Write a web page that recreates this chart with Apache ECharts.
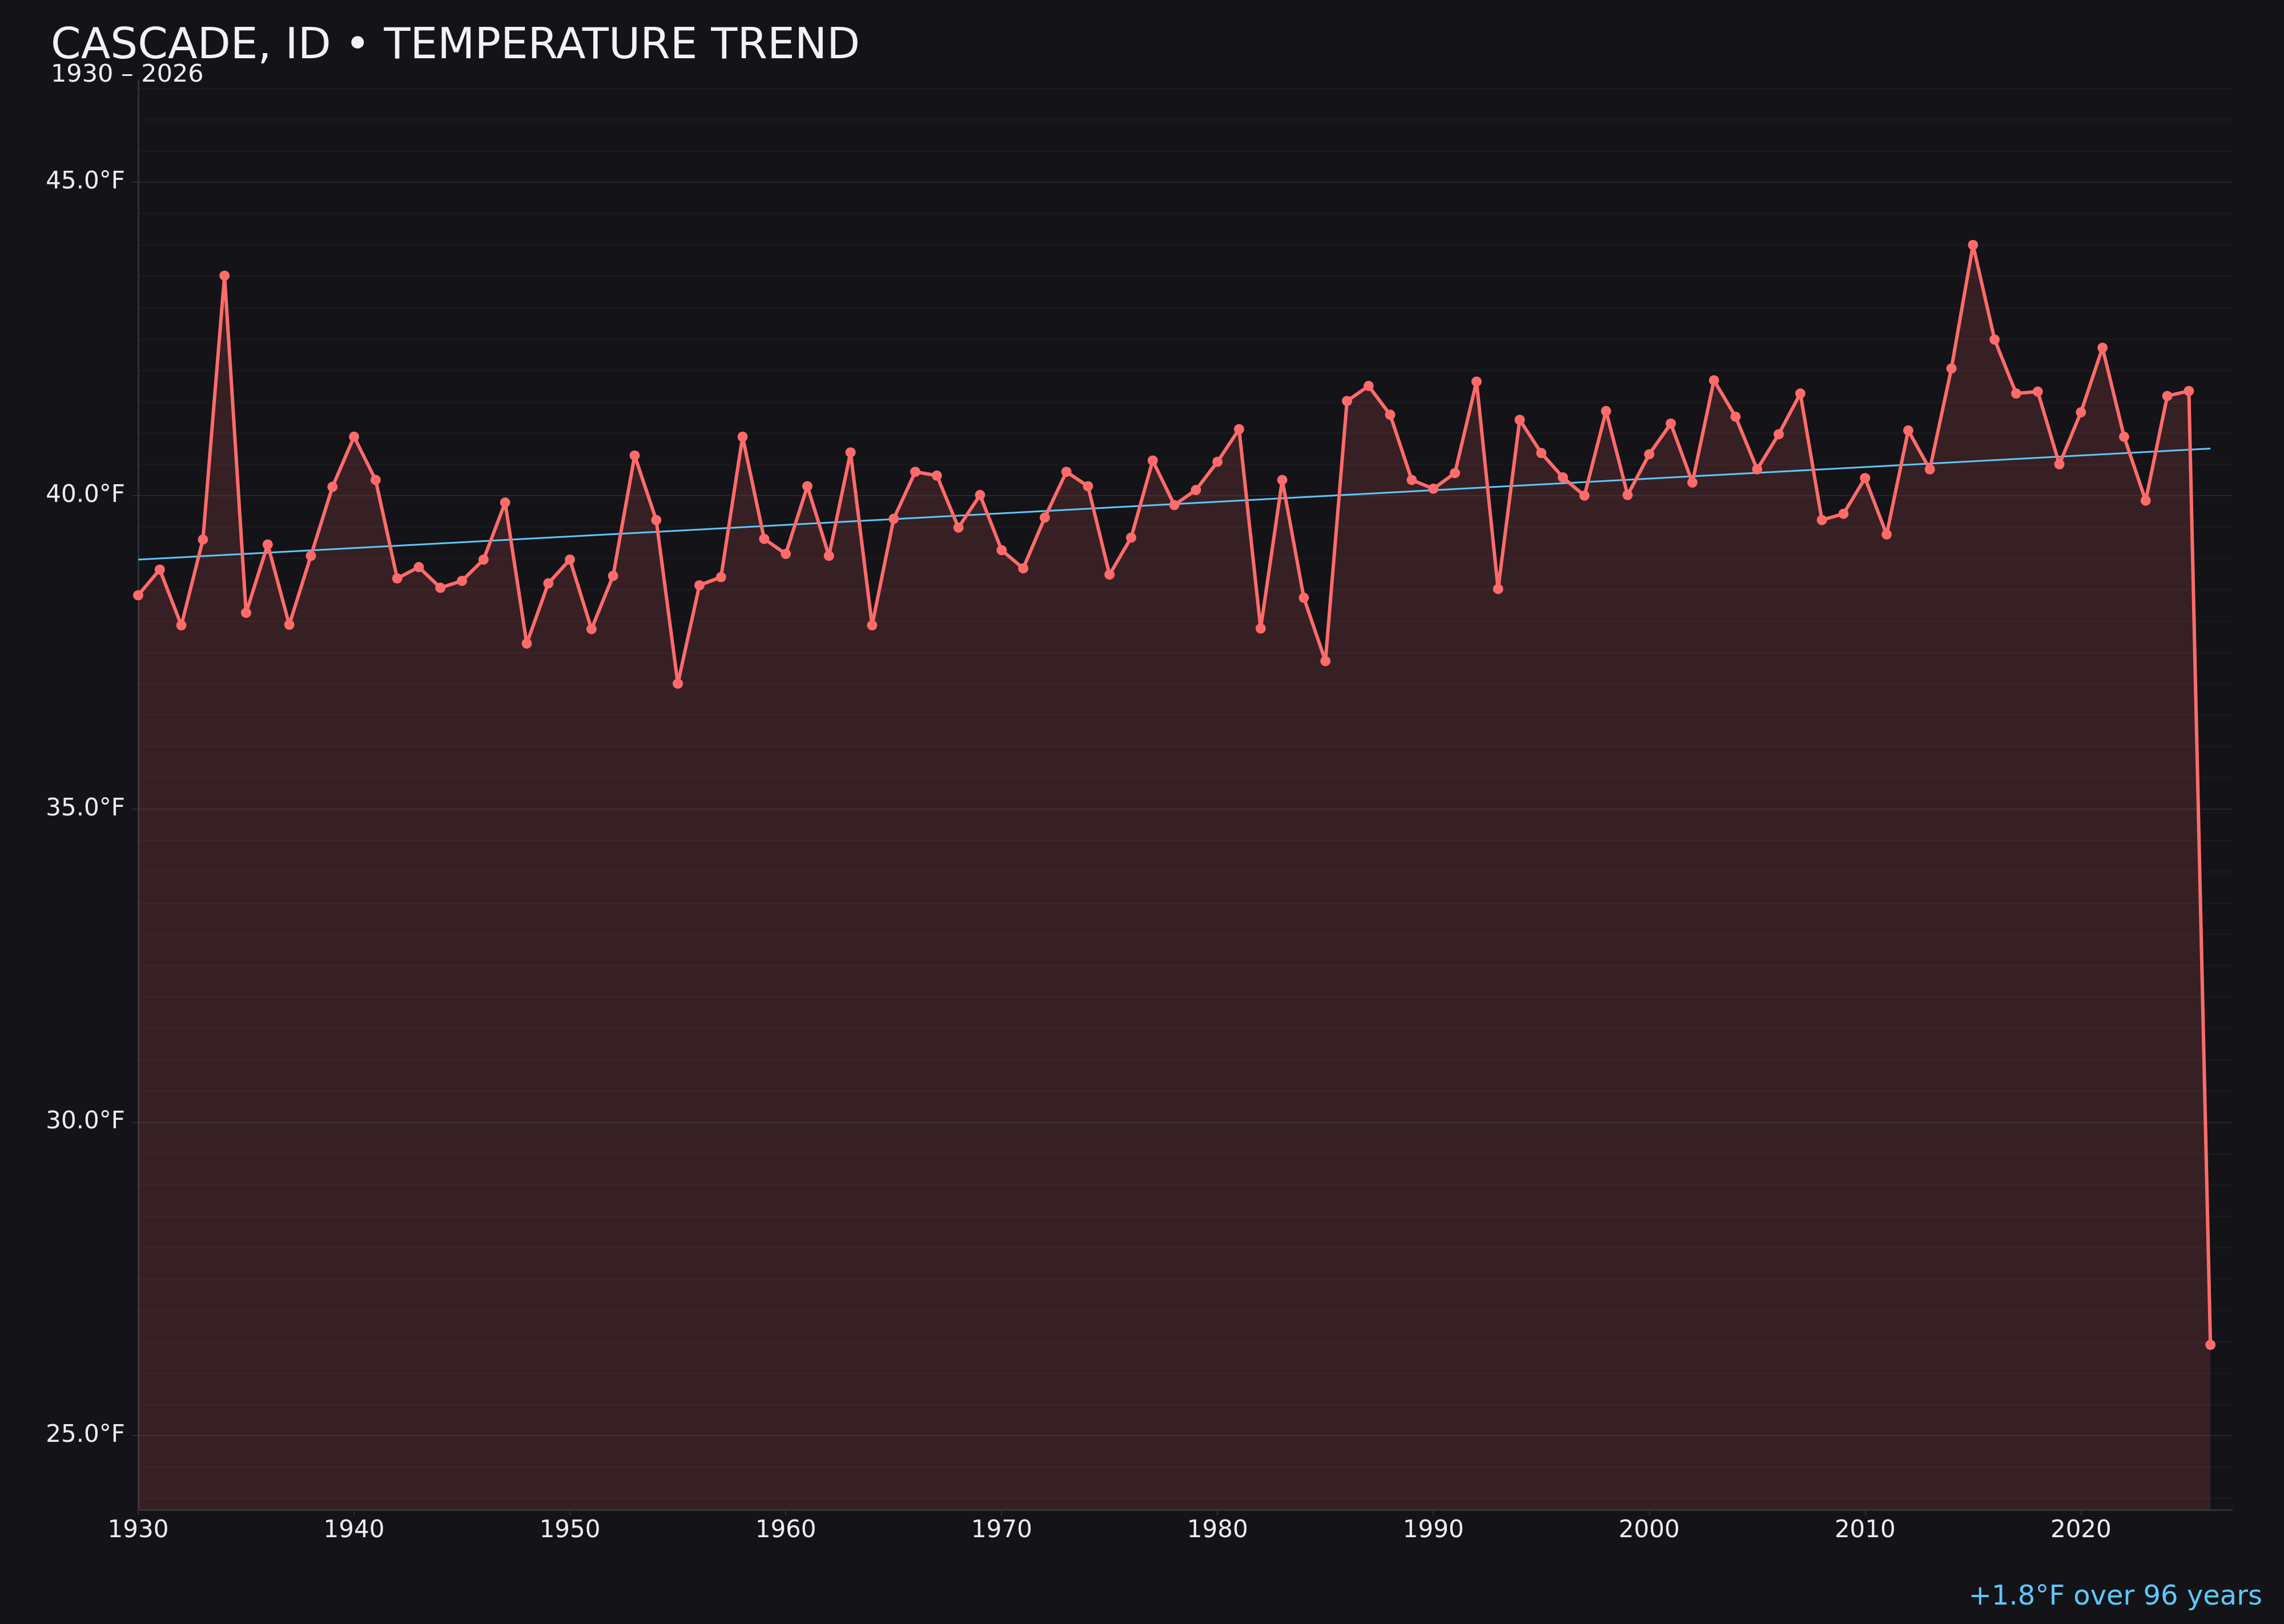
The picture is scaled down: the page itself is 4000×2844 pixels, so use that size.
<!DOCTYPE html>
<html>
<head>
<meta charset="utf-8">
<script src="https://cdn.jsdelivr.net/npm/echarts@6/dist/echarts.min.js"></script>
<style>
html,body{margin:0;padding:0;background:#131318;}
#chart{width:4000px;height:2844px;}
</style>
</head>
<body>
<div id="chart"></div>
<script>
// ---- data ----
const startYear = 1930;
const temps = [
  38.41, 38.82, 37.93, 39.30, 43.51, 38.13, 39.22, 37.94, 39.04, 40.14, // 1930-1939
  40.94, 40.25, 38.68, 38.86, 38.53, 38.64, 38.98, 39.89, 37.64, 38.60, // 1940-1949
  38.98, 37.87, 38.72, 40.64, 39.61, 37.00, 38.57, 38.70, 40.94, 39.31, // 1950-1959
  39.07, 40.15, 39.04, 40.69, 37.93, 39.63, 40.38, 40.32, 39.49, 40.01, // 1960-1969
  39.13, 38.84, 39.65, 40.38, 40.15, 38.74, 39.33, 40.56, 39.85, 40.09, // 1970-1979
  40.54, 41.06, 37.88, 40.25, 38.37, 37.36, 41.51, 41.75, 41.29, 40.25, // 1980-1989
  40.11, 40.36, 41.82, 38.51, 41.21, 40.68, 40.29, 40.00, 41.35, 40.01, // 1990-1999
  40.66, 41.15, 40.21, 41.84, 41.26, 40.42, 40.98, 41.63, 39.61, 39.71, // 2000-2009
  40.28, 39.38, 41.04, 40.42, 42.03, 44.00, 42.49, 41.63, 41.66, 40.50, // 2010-2019
  41.33, 42.36, 40.94, 39.92, 41.59, 41.67, 26.45                       // 2020-2026
];
const trendYears = [1930, 2026];
const trendValues = [38.98, 40.75];
const xTickYears = [1930, 1940, 1950, 1960, 1970, 1980, 1990, 2000, 2010, 2020];
const titleText = 'CASCADE, ID \u2022 TEMPERATURE TREND';
const subtitleText = '1930 \u2013 2026';
const trendText = '+1.8\u00B0F over 96 years';

// ---- build series data ----
const years = temps.map((_, i) => startYear + i);
const pts = years.map((y, i) => [y, temps[i]]);
const trendPts = trendYears.map((y, i) => [y, trendValues[i]]);
const tMin = Math.min(...temps), tMax = Math.max(...temps);
const pad = (tMax - tMin) * 0.15;
const yMin = tMin - pad, yMax = tMax + pad;
const minorLines = [];
for (let v = Math.ceil(yMin * 2) / 2; v < yMax; v += 0.5) {
  if (Math.abs(v / 5 - Math.round(v / 5)) > 1e-6) minorLines.push({ yAxis: v });
}

const FONT = 'DejaVu Sans';
const AXIS = '#2e2f3a';
const chart = echarts.init(document.getElementById('chart'), null, { renderer: 'canvas', devicePixelRatio: 1 });
chart.setOption({
  backgroundColor: '#131318',
  animation: false,
  title: [
    { text: titleText, left: 89, top: 44, padding: 0,
      textStyle: { color: '#f2f2f6', fontSize: 75.5, fontWeight: 'normal', fontFamily: FONT } },
    { text: subtitleText, left: 89, top: 110, padding: 0,
      textStyle: { color: '#ececf1', fontSize: 43, fontWeight: 'normal', fontFamily: FONT } },
    { text: trendText, right: 38, top: 2774, padding: 0,
      textStyle: { color: '#5ec8f8', fontSize: 48, fontWeight: 'normal', fontFamily: FONT } }
  ],
  grid: { left: 242, right: 91, top: 140, bottom: 200 },
  xAxis: {
    type: 'value', min: xTickYears[0], max: 2027, interval: 10,
    axisLine: { show: true, lineStyle: { color: AXIS, width: 3 } },
    axisTick: { show: true, length: 10, lineStyle: { color: AXIS, width: 2 } },
    axisLabel: { color: '#ececf1', fontSize: 42, fontFamily: FONT, margin: 16, showMaxLabel: false,
      formatter: v => String(v) },
    splitLine: { show: false }
  },
  yAxis: {
    type: 'value', min: yMin, max: yMax,
    axisLine: { show: true, lineStyle: { color: AXIS, width: 3 } },
    axisTick: { show: true, length: 10, lineStyle: { color: AXIS, width: 2 } },
    axisLabel: { color: '#ececf1', fontSize: 42, fontFamily: FONT, margin: 23,
      showMinLabel: false, showMaxLabel: false,
      formatter: v => v.toFixed(1) + '\u00B0F' },
    splitLine: { show: true, showMinLine: false, showMaxLine: false,
      lineStyle: { color: '#25252d', width: 2 } }
  },
  series: [
    { type: 'line', data: [], z: 1, silent: true,
      markLine: { silent: true, z: 1, symbol: ['none', 'none'], label: { show: false },
        lineStyle: { color: 'rgba(255,255,255,0.03)', width: 2, type: 'solid' }, data: minorLines } },
    { type: 'line', data: pts, z: 2, symbol: 'none', silent: true,
      lineStyle: { width: 0, opacity: 0 },
      areaStyle: { color: 'rgba(255,107,107,0.15)', opacity: 1, origin: 'start' } },
    { type: 'line', data: trendPts, z: 3, symbol: 'none', silent: true,
      lineStyle: { color: '#5ec8f8', width: 3 } },
    { type: 'line', data: pts, z: 4, symbol: 'circle', symbolSize: 18, silent: true,
      itemStyle: { color: '#ff6b6b', borderWidth: 0 }, lineStyle: { color: '#ff6b6b', width: 6 } }
  ]
});
</script>
</body>
</html>
